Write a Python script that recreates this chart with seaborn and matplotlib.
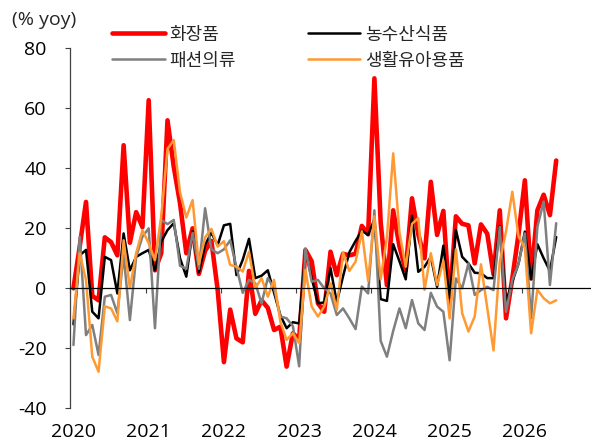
import matplotlib
matplotlib.use("Agg")
import matplotlib.pyplot as plt
import numpy as np
import pandas as pd
import seaborn as sns

# monthly yoy growth, Jan 2020 .. Jun 2026
cosmetics = [
    0, 14, 28.8, -2.5, -4, 17, 15.4, 11, 47.7, 15.2, 25.4, 20.4,
    62.7, 6, 11.7, 56, 40.5, 28.3, 11.7, 20, 4.8, 12.5, 15.8, -0.5,
    -24.6, -7.1, -16.7, -18, 5.8, -8.5, -4, -6.5, -13.9, -12.8, -26.1, -15,
    -17, 12.8, 9, -5, -7.8, 12.2, 4.4, 11.5, 11, 11.5, 20.8, 18,
    70, 22, 1, 26, 14, 6, 30, 18, 10, 35.5, 17.8, 25.8,
    -5, 24, 21.5, 21, 8.3, 21.3, 18.2, 4.7, 26, -10, 3.3, 18.2,
    36, 3.3, 26, 31.2, 24.4, 42.6,
]
agri_food = [
    -12, 11, 12.8, -7.8, -10, 10.5, 9.4, -1.7, 18.3, 6, 10.5, 11.7,
    12.8, 6, 15.5, 19.4, 21.7, 10, 3.9, 19, 5.3, 14.5, 18.5, 14.4,
    21, 21.5, 4.4, 9.5, 16.5, 3.4, 4.2, 6, -1.5, -9, -13.3, -11.3,
    -11.7, 12.5, 3.4, -5, -4.7, 6.8, -4.7, 4, 12, 15.8, 19.2, 17.8,
    23, -3.6, -4.2, 14.7, 9, 3, 24.2, 5.5, 7.2, 10.5, 0.5, 14.2,
    -3.3, 19.5, 10.5, 8.3, 5.2, 5, 3.4, 3.4, 20.8, -4.5, 2.2, 8.3,
    18.9, 3, 14.7, 10, 5.8, 17.1,
]
fashion = [
    -18.9, 17.2, -15.6, -12.2, -22.2, -2.8, -2.2, -8.3, 11.1, -10.6, 10.5, 17.2,
    20, -13.3, 22.8, 21.4, 22.8, 7.5, 6.5, 18.5, 6.5, 26.7, 13, 11.7,
    13, 16, 7, -1.5, 2.8, 1.7, -5, 3.4, 0, -9.4, -10, -12.6,
    -26, 13.3, 2.2, 2.8, 0, -1.7, -8.9, -6.7, -10, -13.6, 0.6, -1.7,
    26, -17.5, -22.8, -14.2, -6.7, -13.3, -3.9, -11.7, -13.9, -1.5, -6.1, -7.8,
    -24, 3.3, 0, 8.3, -2.2, -0.6, 0.5, -0.6, 20.5, -7.8, 2.8, 8.3,
    18.3, -10, 20.5, 28.9, 1.1, 21.7,
]
living_baby = [
    -10, 11.7, 2.8, -22.8, -27.8, -6, -6.7, -11, 16, 0, 11.7, 19.4,
    15, 9.4, 23.9, 46.5, 49.4, 32, 23.6, 29.4, 8, 17, 19.8, 13.9,
    15.7, 7.8, 7.2, 5.6, 12.2, 0, 3.4, -2.8, 2.8, -11.1, -17.2, -15,
    -18.3, 6.1, -6.1, -9.4, -6.1, 1.7, -7.2, 12, 5.8, 8.9, 19, 2.5,
    24, 3, 17, 45, 18.5, 7.2, 21.5, 23.4, -0.5, 11.7, 1.1, 9.2,
    -10, 13, -8.3, -14.4, -9.4, 8, -6.5, -20.7, 9, 19, 32.2, 17.2,
    13.5, -15, -0.5, -3.3, -5, -4,
]

series_names = ["화장품", "농수산식품", "패션의류", "생활유아용품"]
year_labels = ["2020", "2021", "2022", "2023", "2024", "2025", "2026"]

colors = ["#FF0000", "#000000", "#7F7F7F", "#FF9933"]
widths = [3.3, 1.8, 1.8, 1.8]

sns.set_theme(style="ticks")
plt.rcParams["font.family"] = ["Open Sans", "Noto Sans CJK KR", "DejaVu Sans"]
plt.rcParams["axes.unicode_minus"] = False

df = pd.DataFrame({
    "month": np.arange(len(cosmetics)),
    series_names[0]: cosmetics,
    series_names[1]: agri_food,
    series_names[2]: fashion,
    series_names[3]: living_baby,
})
long_df = df.melt(id_vars="month", var_name="series", value_name="yoy")

fig = plt.figure(figsize=(5.91, 4.43), dpi=100)
ax = fig.add_axes([0.119, 0.0783, 0.8794, 0.8126])

for name, color, lw in zip(series_names, colors, widths):
    sns.lineplot(data=long_df[long_df["series"] == name], x="month", y="yoy",
                 color=color, linewidth=lw, ax=ax, label=name, legend=False)

ax.set_xlim(-0.5, 82.4)
ax.set_ylim(-40, 80)
ax.set_yticks(range(-40, 81, 20))
ax.set_xticks(np.arange(len(year_labels)) * 12)
ax.set_xticklabels(year_labels)
ax.set_xticks(np.arange(len(year_labels)) * 12 - 0.5, minor=True)
ax.set_xlabel("")
ax.set_ylabel("")

for side in ["top", "right"]:
    ax.spines[side].set_visible(False)
ax.spines["bottom"].set_position(("data", 0))
ax.spines["bottom"].set_color("black")
ax.spines["bottom"].set_linewidth(0.9)
ax.spines["left"].set_color("#404040")
ax.spines["left"].set_linewidth(0.9)

ax.tick_params(axis="y", direction="out", length=3.6, width=0.8, color="#404040",
               pad=13.5, labelsize=14, labelcolor="black")
ax.tick_params(axis="x", which="major", length=0, pad=97, labelsize=14,
               labelcolor="black")
ax.tick_params(axis="x", which="minor", direction="out", length=3.6, width=0.8,
               color="#404040")

fig.text(0.0753, 0.955, "(% yoy)", ha="center", va="center", fontsize=14)

handles = ax.get_lines()[:4]
order = [0, 2, 1, 3]
ax.legend([handles[i] for i in order], [series_names[i] for i in order],
          ncol=2, frameon=False, loc="upper left",
          bbox_to_anchor=(0.19, 0.942), bbox_transform=fig.transFigure,
          borderaxespad=0, borderpad=0, fontsize=13, handlelength=2.9,
          handletextpad=0.25, columnspacing=4.0, labelspacing=0.45)

fig.savefig("out.png", dpi=100)
